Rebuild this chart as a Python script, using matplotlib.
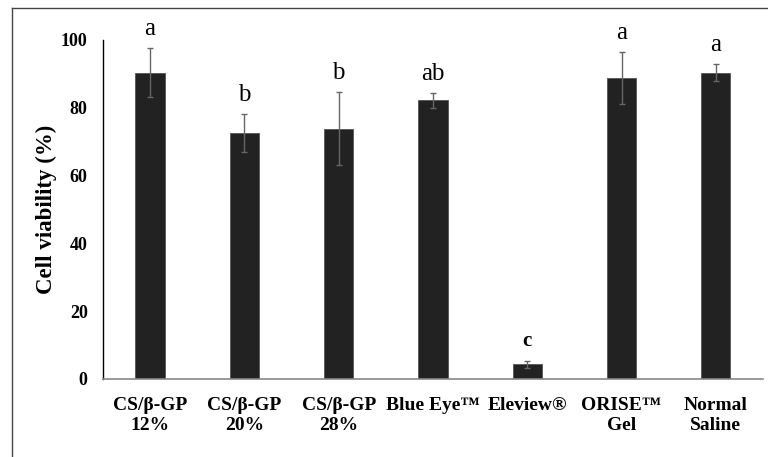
import numpy as np
import matplotlib
matplotlib.use("Agg")
import matplotlib.pyplot as plt
from matplotlib.lines import Line2D

# Values
groups = ["CS/β-GP\n12%", "CS/β-GP\n20%", "CS/β-GP\n28%", "Blue Eye™",
          "Eleview®", "ORISE™\nGel", "Normal\nSaline"]
viability = [90.4, 72.6, 73.8, 82.2, 4.3, 88.7, 90.4]
sd = [7.2, 5.5, 10.8, 2.2, 1.1, 7.7, 2.4]
letters = ["a", "b", "b", "ab", "c", "a", "a"]
yticks = [0, 20, 40, 60, 80, 100]

plt.rcParams['font.family'] = ['Liberation Serif', 'DejaVu Serif']

fig = plt.figure(figsize=(7.68, 4.57), dpi=100)
ax = fig.add_axes([0.134, 0.1707, 0.8595, 0.7418])

x = np.arange(len(groups))
ax.bar(x, viability, width=0.31, color='#222222', edgecolor='#555555',
       linewidth=0.6, zorder=2)
ax.errorbar(x, viability, yerr=sd, fmt='none', ecolor='#666666',
            elinewidth=1.0, capsize=2.5, capthick=1.0, zorder=3)

# significance letters above the error bars
for xi, v, e, lab in zip(x, viability, sd, letters):
    if lab == "c":
        ax.annotate(lab, (xi, v + e), xytext=(0, 7), textcoords='offset points',
                    ha='center', va='bottom', fontsize=15, fontweight='bold')
    else:
        ax.annotate(lab, (xi, v + e), xytext=(0, 6), textcoords='offset points',
                    ha='center', va='bottom', fontsize=18)

ax.set_xlim(-0.5, len(groups) - 0.5)
ax.set_ylim(0, 100)
ax.set_yticks(yticks)
ax.set_xticks(x)
ax.set_xticklabels(groups, fontsize=14, fontweight='bold', linespacing=1.2)
ax.tick_params(axis='y', length=0, pad=11, labelsize=13)
ax.tick_params(axis='x', length=0, pad=13)
for t in ax.get_yticklabels():
    t.set_fontweight('bold')
ax.set_ylabel('Cell viability (%)', fontsize=16.5, fontweight='bold', labelpad=3)

for s in ['top', 'right']:
    ax.spines[s].set_visible(False)
ax.spines['left'].set_color('black')
ax.spines['left'].set_linewidth(1.0)
ax.spines['bottom'].set_color('#888888')
ax.spines['bottom'].set_linewidth(1.2)

# frame fragment from the cropped source image
fig.add_artist(Line2D([12 / 768, 1.0], [1 - 8 / 457, 1 - 8 / 457],
                      transform=fig.transFigure, color='#444444', lw=1.0))
fig.add_artist(Line2D([12 / 768, 12 / 768], [0.0, 1 - 8 / 457],
                      transform=fig.transFigure, color='#444444', lw=1.0))

fig.savefig('out.png', dpi=100)
